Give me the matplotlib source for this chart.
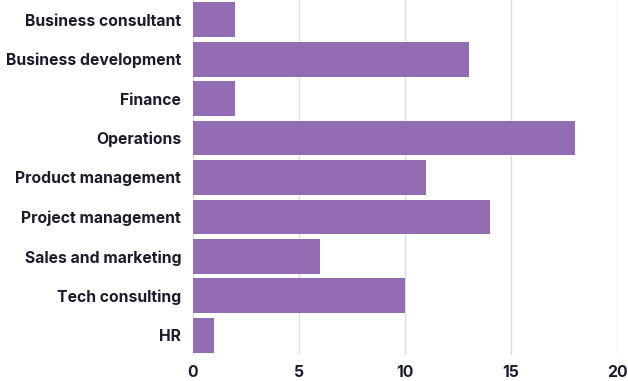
import matplotlib
matplotlib.use("Agg")
import matplotlib.pyplot as plt

categories = ["Business consultant", "Business development", "Finance", "Operations",
              "Product management", "Project management", "Sales and marketing",
              "Tech consulting", "HR"]
values = [2, 13, 2, 18, 11, 14, 6, 10, 1]
xticks = [0, 5, 10, 15, 20]

plt.rcParams['font.family'] = ['Inter', 'DejaVu Sans']

fig = plt.figure(figsize=(6.28, 3.81), dpi=100)
ax = fig.add_axes([193/628, 1 - 355/381, (617-193)/628, 355/381])

ax.barh(range(len(categories)), values, height=0.88, color="#926db3", zorder=2)
ax.set_yticks(range(len(categories)))
ax.set_yticklabels(categories, fontsize=11.3, fontweight="bold", color="#1b1b2b")
ax.set_ylim(8.5, -0.5)
ax.set_xlim(0, 20)
ax.set_xticks(xticks)
ax.set_xticklabels([str(t) for t in xticks], fontsize=11.3, fontweight="bold", color="#1b1b2b")
ax.tick_params(axis='both', length=0)
ax.tick_params(axis='y', pad=8.5)
ax.tick_params(axis='x', pad=7)
ax.grid(axis='x', color="#dddddd", linewidth=1, zorder=0)
for s in ax.spines.values():
    s.set_visible(False)

fig.savefig("out.png", dpi=100)
